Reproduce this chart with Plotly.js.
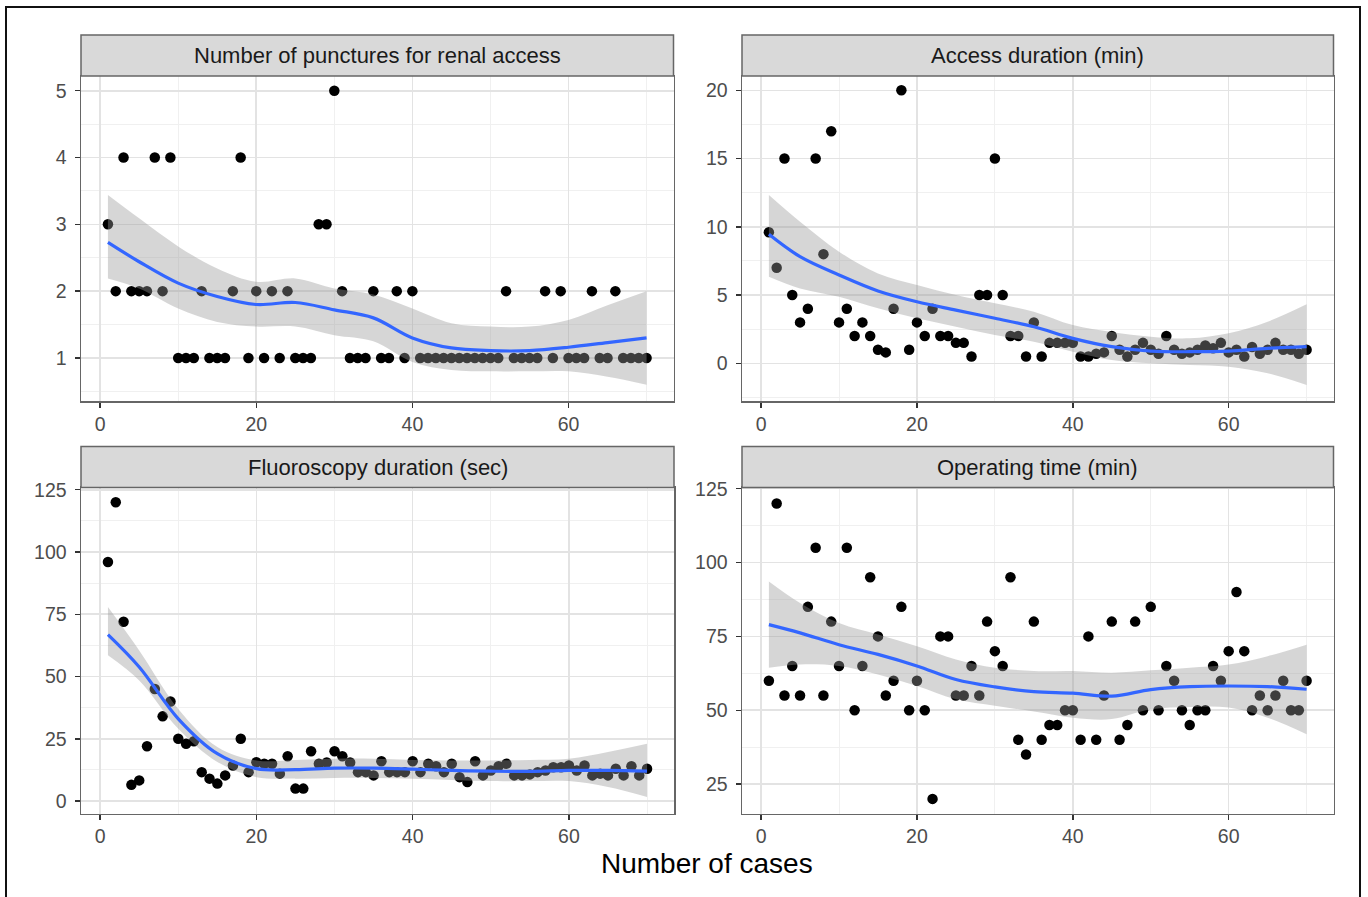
<!DOCTYPE html>
<html>
<head>
<meta charset="utf-8">
<script src="https://cdn.plot.ly/plotly-3.0.1.min.js"></script>
<style>
html,body{margin:0;padding:0;background:#fff;}
#chart{width:1368px;height:897px;}
</style>
</head>
<body>
<div id="chart"></div>
<script>
// ---------- data ----------
const cases = Array.from({length: 70}, (_, i) => i + 1);

const panelTitles = [
  "Number of punctures for renal access",
  "Access duration (min)",
  "Fluoroscopy duration (sec)",
  "Operating time (min)"
];
const xAxisTitle = "Number of cases";

const punctures = [3,2,4,2,2,2,4,2,4,1, 1,1,2,1,1,1,2,4,1,2, 1,2,1,2,1,1,1,3,3,5,
  2,1,1,1,2,1,1,2,1,2, 1,1,1,1,1,1,1,1,1,1, 1,2,1,1,1,1,2,1,2,1, 1,1,2,1,1,2,1,1,1,1];

const accessDur = [9.6,7,15,5,3,4,15,8,17,3, 4,2,3,2,1,0.8,4,20,1,3, 2,4,2,2,1.5,1.5,0.5,5,5,15,
  5,2,2,0.5,3,0.5,1.5,1.5,1.5,1.5, 0.5,0.5,0.7,0.8,2,1,0.5,1,1.5,1, 0.7,2,1,0.7,0.8,1,1.3,1.1,1.5,0.8,
  1,0.5,1.2,0.7,1,1.5,1,1,0.7,1];

const fluoroDur = [96,120,72,6.5,8.3,22,45,34,40,25, 23,24,11.6,9,7,10.3,14.3,25,11.6,15.6,
  15,15,11,18,5,5,20,15,15.5,20, 18,15.5,11.6,11.6,10.3,16,11.6,11.6,11.6,16,
  11.6,15,14,11.6,15,9.6,7.6,16,10.3,12.3, 14,15,10.3,10.3,10.7,11.6,12.3,13.6,13.6,14.3,
  12.3,14.3,10.3,11,10.3,13,10.3,14,10.3,13];

const opTime = [60,120,55,65,55,85,105,55,80,65, 105,50,65,95,75,55,60,85,50,60,
  50,20,75,75,55,55,65,55,80,70, 65,95,40,35,80,40,45,45,50,50,
  40,75,40,55,80,40,45,80,50,85, 50,65,60,50,45,50,50,65,60,70,
  90,70,50,55,50,55,60,50,50,60];

// loess smooth (fit, upper and lower 95% band)
const smoothX = [1,5,10,15,20,25,30,35,40,45,50,55,60,65,70];

const punctFit   = [2.73,2.44,2.12,1.92,1.80,1.83,1.72,1.60,1.30,1.15,1.11,1.11,1.16,1.23,1.30];
const punctUpper = [3.44,3.09,2.67,2.34,2.14,2.19,2.04,1.95,1.74,1.52,1.47,1.47,1.57,1.79,2.00];
const punctLower = [2.19,2.04,1.74,1.54,1.47,1.47,1.34,1.25,0.94,0.82,0.80,0.80,0.80,0.72,0.60];

const accessFit   = [9.45,7.81,6.47,5.30,4.51,3.90,3.30,2.68,1.83,1.22,0.90,0.85,0.90,1.10,1.22];
const accessUpper = [12.33,10.37,8.18,6.59,5.74,5.00,4.40,3.78,2.80,2.30,1.95,1.83,2.20,3.05,4.32];
const accessLower = [6.35,5.49,4.88,4.03,3.30,2.68,2.07,1.58,0.85,0.24,0.00,-0.12,-0.25,-0.73,-1.59];

const fluoroFit   = [66.8,53.8,33.0,19.0,13.0,12.6,13.2,13.2,12.8,12.3,12.0,11.9,12.3,12.3,12.0];
const fluoroUpper = [77.9,60.5,37.0,21.7,16.3,16.5,17.0,17.0,16.5,16.3,16.3,16.5,17.0,19.7,23.0];
const fluoroLower = [58.5,48.4,29.0,15.7,9.6,9.0,9.3,9.3,9.0,8.5,8.0,8.0,8.0,5.6,1.6];

const opFit   = [79.0,76.2,72.2,68.9,65.0,60.4,57.9,56.3,55.8,54.8,57.0,58.0,58.2,58.0,57.1];
const opUpper = [93.6,86.3,79.5,75.6,71.7,67.2,64.4,63.3,63.3,62.7,63.5,64.4,65.5,68.3,72.2];
const opLower = [64.4,65.5,65.0,62.1,58.2,53.7,51.5,49.6,47.5,47.0,50.3,51.1,50.9,47.5,41.9];

const xTicks = [0,20,40,60];
const xMinor = [10,30,50,70];
const yTicks = [
  [1,2,3,4,5],
  [0,5,10,15,20],
  [0,25,50,75,100,125],
  [25,50,75,100,125]
];
const yMinor = [
  [0.5,1.5,2.5,3.5,4.5],
  [-2.5,2.5,7.5,12.5,17.5],
  [12.5,37.5,62.5,87.5,112.5],
  [37.5,62.5,87.5,112.5]
];

// ---------- layout geometry (pixels) ----------
const W = 1368, H = 897;
const panels = [
  {x0: 81,  x1: 673.5, y0: 76,    y1: 401,   yr: [0.356, 5.22]},
  {x0: 742, x1: 1333.5, y0: 76,   y1: 401,   yr: [-2.76, 21.05]},
  {x0: 81,  x1: 674,   y0: 487.5, y1: 813.5, yr: [-5.0, 125.9]},
  {x0: 742, x1: 1333.5, y0: 487.5, y1: 813.5, yr: [15.05, 125.4]}
];
const stripH = 41;

const seriesY = [punctures, accessDur, fluoroDur, opTime];
const fits = [punctFit, accessFit, fluoroFit, opFit];
const uppers = [punctUpper, accessUpper, fluoroUpper, opUpper];
const lowers = [punctLower, accessLower, fluoroLower, opLower];

const FONT = "Liberation Sans, Arial, Helvetica, sans-serif";
const traces = [];
const layout = {
  width: W, height: H,
  margin: {l: 0, r: 0, t: 0, b: 0, pad: 0},
  paper_bgcolor: "#ffffff",
  plot_bgcolor: "#ffffff",
  showlegend: false,
  font: {family: FONT},
  shapes: [],
  annotations: []
};

panels.forEach((p, i) => {
  const n = i + 1;
  const xa = n === 1 ? "x" : "x" + n;
  const ya = n === 1 ? "y" : "y" + n;
  const xkey = n === 1 ? "xaxis" : "xaxis" + n;
  const ykey = n === 1 ? "yaxis" : "yaxis" + n;

  // points
  traces.push({
    type: "scatter", mode: "markers", x: cases, y: seriesY[i],
    xaxis: xa, yaxis: ya,
    marker: {color: "#000000", size: 10.5, line: {width: 0}},
    hoverinfo: "x+y"
  });
  // ribbon: lower edge, then upper edge filled down to it
  traces.push({
    type: "scatter", mode: "lines", x: smoothX, y: lowers[i],
    xaxis: xa, yaxis: ya,
    line: {width: 0, shape: "spline", smoothing: 1, color: "rgba(0,0,0,0)"},
    hoverinfo: "skip"
  });
  traces.push({
    type: "scatter", mode: "lines", x: smoothX, y: uppers[i],
    xaxis: xa, yaxis: ya,
    fill: "tonexty", fillcolor: "rgba(153,153,153,0.4)",
    line: {width: 0, shape: "spline", smoothing: 1, color: "rgba(0,0,0,0)"},
    hoverinfo: "skip"
  });
  // fit line
  traces.push({
    type: "scatter", mode: "lines", x: smoothX, y: fits[i],
    xaxis: xa, yaxis: ya,
    line: {color: "#3366FF", width: 3.2, shape: "spline", smoothing: 1},
    hoverinfo: "skip"
  });

  layout[xkey] = {
    domain: [p.x0 / W, p.x1 / W],
    anchor: ya,
    range: [-2.45, 73.45],
    tickmode: "array", tickvals: xTicks, ticktext: xTicks.map(String),
    ticks: "outside", ticklen: 5, tickwidth: 1.5, tickcolor: "#333333",
    tickfont: {size: 19.5, color: "#4D4D4D", family: FONT},
    showgrid: true, gridcolor: "#E3E3E3", gridwidth: 1.6,
    minor: {tickvals: xMinor, showgrid: true, gridcolor: "#F0F0F0", gridwidth: 1, ticks: ""},
    zeroline: false,
    showline: true, mirror: true, linecolor: "#666666", linewidth: 1.5
  };
  layout[ykey] = {
    domain: [(H - p.y1) / H, (H - p.y0) / H],
    anchor: xa,
    range: p.yr,
    tickmode: "array", tickvals: yTicks[i], ticktext: yTicks[i].map(String),
    ticks: "outside", ticklen: 5, tickwidth: 1.5, tickcolor: "#333333",
    ticklabelstandoff: 4,
    tickfont: {size: 19.5, color: "#4D4D4D", family: FONT},
    showgrid: true, gridcolor: "#E3E3E3", gridwidth: 1.6,
    minor: {tickvals: yMinor[i], showgrid: true, gridcolor: "#F0F0F0", gridwidth: 1, ticks: ""},
    zeroline: false,
    showline: true, mirror: true, linecolor: "#666666", linewidth: 1.5
  };

  // strip
  layout.shapes.push({
    type: "rect", xref: "paper", yref: "paper",
    x0: p.x0 / W, x1: p.x1 / W,
    y0: (H - p.y0) / H, y1: (H - p.y0 + stripH) / H,
    fillcolor: "#D9D9D9", line: {color: "#666666", width: 1.5}, layer: "above"
  });
  layout.annotations.push({
    xref: "paper", yref: "paper",
    x: (p.x0 + p.x1) / 2 / W, y: (H - p.y0 + stripH / 2) / H,
    xanchor: "center", yanchor: "middle", showarrow: false,
    text: panelTitles[i],
    font: {size: 22, color: "#1A1A1A", family: FONT}
  });
});

// outer frame
layout.shapes.push({
  type: "rect", xref: "paper", yref: "paper",
  x0: 6 / W, x1: 1360 / W, y0: -0.02, y1: (H - 7) / H,
  line: {color: "#111111", width: 2}, fillcolor: "rgba(0,0,0,0)", layer: "above"
});

// shared x-axis title
layout.annotations.push({
  xref: "paper", yref: "paper",
  x: 707 / W, y: (H - 863) / H,
  xanchor: "center", yanchor: "middle", showarrow: false,
  text: xAxisTitle,
  font: {size: 28, color: "#000000", family: FONT}
});

Plotly.newPlot("chart", traces, layout, {staticPlot: true, displayModeBar: false});
</script>
</body>
</html>
